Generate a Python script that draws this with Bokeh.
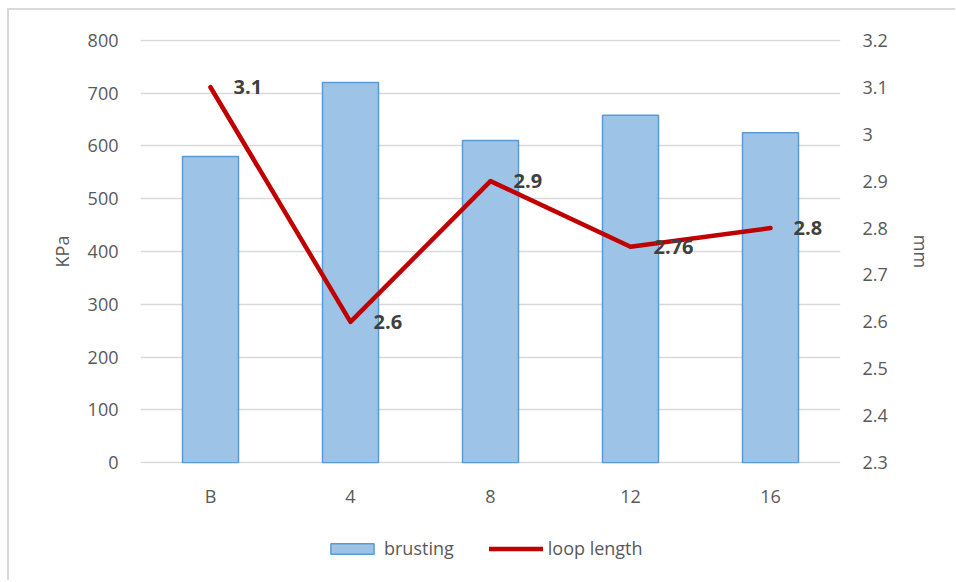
from bokeh.plotting import figure
from bokeh.layouts import column
from bokeh.models import (FactorRange, Range1d, LinearAxis, FixedTicker, Legend, LegendItem,
                          ColumnDataSource, CustomJSTickFormatter, LabelSet)
from bokeh.core.properties import value
from bokeh.embed import file_html
from bokeh.resources import INLINE

categories = ["B", "4", "8", "12", "16"]
brusting = [580, 720, 610, 658, 625]
loop_length = [3.1, 2.6, 2.9, 2.76, 2.8]
loop_labels = ["3.1", "2.6", "2.9", "2.76", "2.8"]
left_ticks = [0, 100, 200, 300, 400, 500, 600, 700, 800]
right_ticks = [2.3, 2.4, 2.5, 2.6, 2.7, 2.8, 2.9, 3.0, 3.1, 3.2]

FONT = "Open Sans"
TXT = "#595959"
FS = "18px"
BAR_FILL, BAR_LINE, LINE_COL = "#9DC3E6", "#5B9BD5", "#C00000"

# tiny padding so the 0 and 800 grid lines are not clipped by the frame
pad = 1.5
kpa_lo, kpa_hi = 0, 800
mm_lo, mm_hi = 2.3, 3.2
k = (mm_hi - mm_lo) / (kpa_hi - kpa_lo)

src = ColumnDataSource(dict(cat=categories, kpa=brusting, mm=loop_length, lab=loop_labels))

W = 946
p = figure(x_range=FactorRange(*categories), y_range=Range1d(kpa_lo - pad, kpa_hi + pad),
           width=W, height=520, output_backend="svg", toolbar_location=None,
           min_border_left=131, min_border_right=W - 131 - 700, min_border_top=29,
           min_border_bottom=67, outline_line_color=None)
p.extra_y_ranges = {"mm": Range1d(mm_lo - pad * k, mm_hi + pad * k)}

bars = p.vbar(x="cat", top="kpa", width=0.4, source=src, fill_color=BAR_FILL,
              line_color=BAR_LINE, line_width=1.5)
line = p.line(x="cat", y="mm", source=src, y_range_name="mm", line_color=LINE_COL,
              line_width=4.5, line_join="round", line_cap="round")

labels = LabelSet(x="cat", y="mm", text="lab", source=src, y_range_name="mm",
                  x_offset=23, text_align="left", text_baseline="middle",
                  text_font=value(FONT), text_font_size=value("20px"),
                  text_font_style="bold", text_color="#404040")
p.add_layout(labels)

ya = p.yaxis[0]
ya.ticker = FixedTicker(ticks=left_ticks)
ya.axis_label = "KPa"
ya.major_label_standoff = 22
ya.axis_label_standoff = 11

ra = LinearAxis(y_range_name="mm", ticker=FixedTicker(ticks=right_ticks), axis_label="mm",
                formatter=CustomJSTickFormatter(code="return String(Number(tick.toFixed(1)));"))
ra.major_label_standoff = 22
ra.axis_label_standoff = 18
p.add_layout(ra, "right")

for ax in [ya, ra]:
    ax.axis_line_color = None
    ax.major_tick_line_color = None
    ax.minor_tick_line_color = None
    ax.major_tick_out = 0
    ax.major_tick_in = 0
    ax.major_label_text_font = FONT
    ax.major_label_text_font_size = FS
    ax.major_label_text_color = TXT
    ax.axis_label_text_font = FONT
    ax.axis_label_text_font_size = FS
    ax.axis_label_text_color = TXT
    ax.axis_label_text_font_style = "normal"

xa = p.xaxis[0]
xa.axis_line_color = None
xa.major_tick_line_color = None
xa.major_tick_out = 0
xa.major_tick_in = 0
xa.major_label_standoff = 20
xa.major_label_text_font = FONT
xa.major_label_text_font_size = FS
xa.major_label_text_color = TXT

p.xgrid.grid_line_color = None
p.ygrid.grid_line_color = "#d9d9d9"
p.ygrid.grid_line_width = 1.5

# legend strip below the chart (same data; renderers hidden so only the legend shows)
lp = figure(width=W, height=50, output_backend="svg", toolbar_location=None,
            x_range=FactorRange(*categories), y_range=Range1d(2000, 3000),
            min_border_left=131, min_border_right=W - 131 - 700, min_border_top=0,
            min_border_bottom=0, outline_line_color=None)
lp.extra_y_ranges = {"mm": Range1d(20, 30)}
lp.axis.visible = False
lp.grid.visible = False
lb = lp.vbar(x="cat", top="kpa", width=0.4, source=src, fill_color=BAR_FILL,
             line_color=BAR_LINE, line_width=1.5)
ll = lp.line(x="cat", y="mm", source=src, y_range_name="mm", line_color=LINE_COL,
             line_width=4.5, line_cap="round")
lb.visible = False
ll.visible = False

legend = Legend(items=[LegendItem(label="brusting", renderers=[lb]),
                       LegendItem(label="loop length", renderers=[ll])],
                orientation="horizontal", location=(185, 20), click_policy="none",
                glyph_width=54, glyph_height=13, label_standoff=5, spacing=35,
                label_text_font=FONT, label_text_font_size=FS, label_text_color=TXT,
                border_line_color=None, background_fill_alpha=0, margin=0, padding=0)
lp.add_layout(legend)

layout = column(p, lp, spacing=0, margin=(8, 0, 0, 7),
                styles={"border-left": "2px solid #d9d9d9", "border-top": "2px solid #d9d9d9"})

open("out.html", "w").write(file_html(layout, INLINE))
